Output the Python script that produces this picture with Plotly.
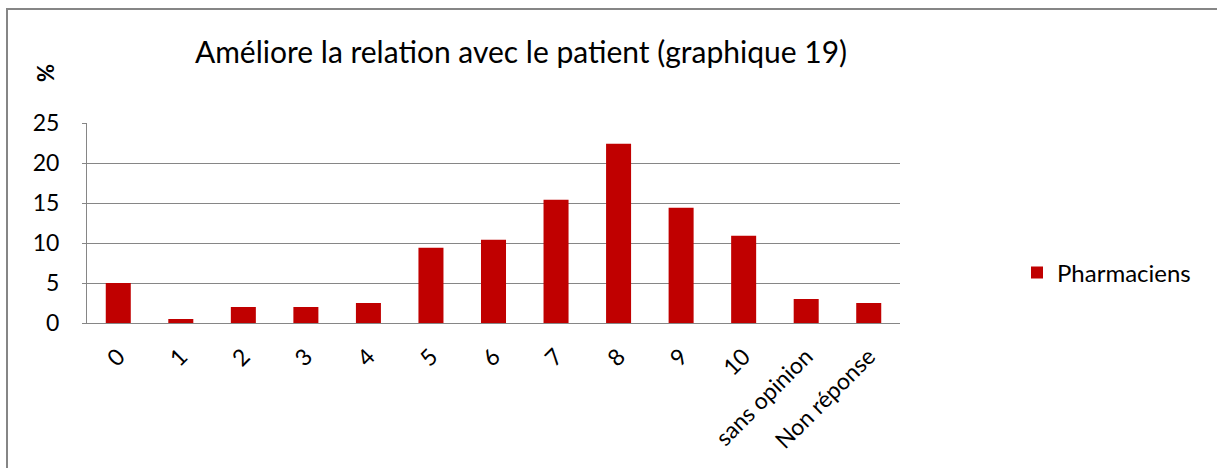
import plotly.graph_objects as go

categories = ["0", "1", "2", "3", "4", "5", "6", "7", "8", "9", "10", "sans opinion", "Non réponse"]
pharmaciens = [5.0, 0.5, 2.0, 2.0, 2.5, 9.4, 10.4, 15.4, 22.4, 14.4, 10.9, 3.0, 2.5]
y_ticks = [0, 5, 10, 15, 20, 25]

W, H = 1217, 468
L, R, T, B = 87, 900, 123, 323
pw, ph = R - L, B - T

def px(x):
    return (x - L) / pw

def py(y):
    return (B - y) / ph

fig = go.Figure()
fig.add_trace(go.Bar(
    x=categories, y=pharmaciens, name="Pharmaciens",
    marker=dict(color="#C00000", line=dict(width=0)),
))

font_main = "Lato, Open Sans, sans-serif"

fig.update_layout(
    width=W, height=H,
    margin=dict(l=L, r=W - R, t=T, b=H - B),
    paper_bgcolor="white", plot_bgcolor="white",
    bargap=0.6,
    showlegend=True,
    legend=dict(x=px(1017), y=py(273), xanchor="left", yanchor="middle",
                font=dict(family=font_main, size=24, color="black"),
                bgcolor="rgba(0,0,0,0)", itemwidth=30),
    title=dict(text="Améliore la relation avec le patient (graphique 19)",
               x=521 / W, xanchor="center", y=1 - 52 / H, yanchor="middle",
               xref="container", yref="container",
               font=dict(family=font_main, size=30, color="black")),
    xaxis=dict(type="category", tickangle=-45, showgrid=False,
               showline=True, linecolor="#868686", linewidth=1,
               ticks="", ticklabelstandoff=10,
               tickfont=dict(family=font_main, size=23, color="black")),
    yaxis=dict(range=[0, 25], tickvals=y_ticks, showgrid=True,
               gridcolor="#868686", gridwidth=1, zeroline=False,
               showline=True, linecolor="#868686", linewidth=1,
               ticks="outside", ticklen=4, tickcolor="#868686",
               ticklabelstandoff=18,
               tickfont=dict(family=font_main, size=23, color="black")),
    annotations=[dict(text="<b>%</b>", x=px(45), y=py(73), xref="paper", yref="paper",
                      xanchor="center", yanchor="middle",
                      showarrow=False, textangle=-90,
                      font=dict(family=font_main, size=22, color="black"))],
    shapes=[dict(type="rect", xref="paper", yref="paper",
                 x0=px(7), x1=px(1222), y0=py(475), y1=py(9),
                 line=dict(color="#868686", width=2), fillcolor="rgba(0,0,0,0)",
                 layer="above")],
)

fig.write_html("out.html", config={"displayModeBar": False},
               post_script="document.body.style.margin='0';")
